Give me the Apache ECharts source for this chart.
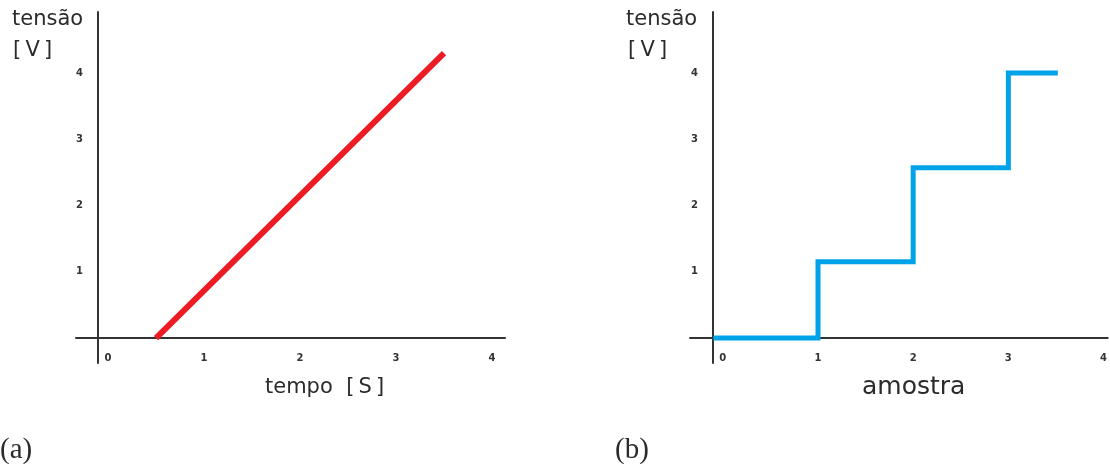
<!DOCTYPE html>
<html>
<head>
<meta charset="utf-8">
<script src="https://cdn.jsdelivr.net/npm/echarts@6/dist/echarts.min.js"></script>
<style>
html,body{margin:0;padding:0;background:#fff;}
#c{width:1110px;height:468px;}
</style>
</head>
<body>
<div id="c"></div>
<script>
// ---- data ----
const xTickLabels = [0, 1, 2, 3, 4];
const yTickLabels = [1, 2, 3, 4];
// (a) continuous signal: tensão vs tempo
const rampTime = [0.5, 3.5];
const rampVolt = [0, 4.3];
// (b) sampled signal: tensão vs amostra (step)
const sampleIdx = [-0.1, 1, 2, 3, 3.52];
const sampleVolt = [0, 1.15, 2.57, 4.0, 4.0];

const chart = echarts.init(document.getElementById('c'));
const axisCol = '#333';
const labelFont = 'DejaVu Sans';

function xAx(grid, min, max) {
  return {
    type: 'value', gridIndex: grid, min: min, max: max, position: 'bottom', offset: -25,
    axisLine: { show: true, onZero: false, lineStyle: { color: axisCol, width: 2 } },
    axisTick: { show: false },
    splitLine: { show: false },
    axisLabel: { customValues: xTickLabels, margin: 15, fontSize: 10, fontWeight: 'bold',
      color: '#333', fontFamily: labelFont }
  };
}
function yAx(grid, off) {
  return {
    type: 'value', gridIndex: grid, min: -0.377, max: 4.92, offset: off,
    axisLine: { show: true, onZero: false, lineStyle: { color: axisCol, width: 2 } },
    axisTick: { show: false },
    splitLine: { show: false },
    axisLabel: { customValues: yTickLabels, margin: 15, fontSize: 10, fontWeight: 'bold',
      color: '#333', fontFamily: labelFont }
  };
}

const txt = (x, y, s, size, fam, align) => ({
  type: 'text', x: x, y: y,
  style: { text: s, fontSize: size, fontFamily: fam, fill: '#2b2b2b',
    align: align || 'left', verticalAlign: 'middle' }
});

chart.setOption({
  animation: false,
  backgroundColor: '#fff',
  grid: [
    { left: 76, top: 12, width: 429, height: 351 },
    { left: 690, top: 12, width: 420, height: 351 }
  ],
  xAxis: [ xAx(0, -0.333, 4.135), xAx(1, -0.345, 4.044) ],
  yAxis: [ yAx(0, -22), yAx(1, -23) ],
  series: [
    { type: 'line', xAxisIndex: 0, yAxisIndex: 0, showSymbol: false,
      data: rampTime.map((t, i) => [t, rampVolt[i]]),
      lineStyle: { color: '#ed1c24', width: 6, cap: 'butt' } },
    { type: 'line', xAxisIndex: 1, yAxisIndex: 1, showSymbol: false, step: 'end',
      data: sampleIdx.map((t, i) => [t, sampleVolt[i]]),
      lineStyle: { color: '#00a2e8', width: 5, cap: 'butt', join: 'miter' } }
  ],
  graphic: [
    txt(12, 20, 'tensão', 21, 'DejaVu Sans'),
    txt(13, 51, '[\u2009V\u2009]', 21, 'DejaVu Sans'),
    txt(265, 388, 'tempo  [\u2009S\u2009]', 21, 'DejaVu Sans'),
    txt(626, 20, 'tensão', 21, 'DejaVu Sans'),
    txt(628, 51, '[\u2009V\u2009]', 21, 'DejaVu Sans'),
    txt(862, 387, 'amostra', 25, 'DejaVu Sans'),
    txt(0, 450, '(a)', 29, 'Liberation Serif'),
    txt(615, 450, '(b)', 29, 'Liberation Serif')
  ]
});
</script>
</body>
</html>
